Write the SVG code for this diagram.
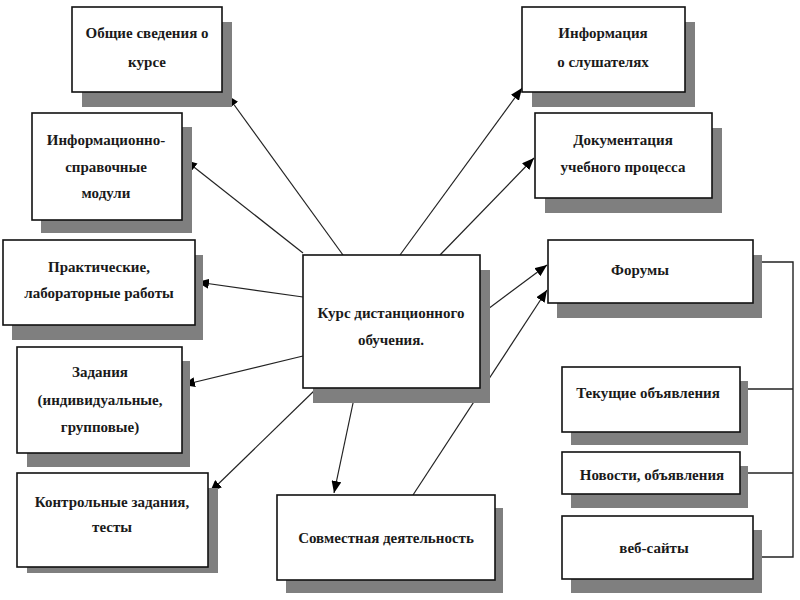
<svg xmlns="http://www.w3.org/2000/svg" width="800" height="600" viewBox="0 0 800 600">
<style>
.sh{fill:#7f7f7f}
.bx{fill:#fff;stroke:#111;stroke-width:1.6}
.t{font-family:"Liberation Serif","Times New Roman",serif;font-weight:bold;font-size:15px;fill:#1a1a1a;text-anchor:middle}
.c{stroke:#222;stroke-width:1.2;fill:none}
.ln{stroke:#222;stroke-width:1.4;fill:none}
</style>
<defs>
<marker id="ah" viewBox="0 0 12 10" refX="12" refY="5" markerWidth="12" markerHeight="10" markerUnits="userSpaceOnUse" orient="auto">
<path d="M0,0 L12,5 L0,10 Z" fill="#000"/>
</marker>
</defs>
<rect width="800" height="600" fill="#fff"/>
<g id="connectors">
<line class="c" x1="343" y1="255" x2="227" y2="95" marker-end="url(#ah)"/>
<line class="c" x1="303" y1="253" x2="185" y2="160" marker-end="url(#ah)"/>
<line class="c" x1="303" y1="297" x2="197" y2="282" marker-end="url(#ah)"/>
<line class="c" x1="303" y1="356" x2="183" y2="385" marker-end="url(#ah)"/>
<line class="c" x1="316" y1="389" x2="210" y2="492" marker-end="url(#ah)"/>
<line class="c" x1="356" y1="389" x2="334" y2="493" marker-end="url(#ah)"/>
<line class="c" x1="400" y1="255" x2="522" y2="88" marker-end="url(#ah)"/>
<line class="c" x1="440" y1="255" x2="534" y2="158" marker-end="url(#ah)"/>
<line class="c" x1="480" y1="315" x2="547" y2="265" marker-end="url(#ah)"/>
<line class="c" x1="413" y1="495" x2="547" y2="290" marker-end="url(#ah)"/>
<polyline class="ln" points="753,262 793,262 793,557 753,557"/>
<line class="ln" x1="740" y1="389" x2="793" y2="389"/>
<line class="ln" x1="740" y1="473" x2="793" y2="473"/>
</g>
<g id="n-obshchie">
<rect class="sh" x="82" y="22" width="150" height="85"/>
<rect class="bx" x="72" y="7" width="150" height="85"/>
<text class="t" x="147" y="38">Общие сведения о</text>
<text class="t" x="147" y="67">курсе</text>
</g>
<g id="n-info-sprav">
<rect class="sh" x="41" y="127" width="151" height="106"/>
<rect class="bx" x="32" y="113" width="150" height="107"/>
<text class="t" x="106" y="145">Информационно-</text>
<text class="t" x="106" y="172">справочные</text>
<text class="t" x="106" y="198">модули</text>
</g>
<g id="n-prakt">
<rect class="sh" x="12" y="255" width="191" height="85"/>
<rect class="bx" x="3" y="240" width="192" height="85"/>
<text class="t" x="99" y="272">Практические,</text>
<text class="t" x="99" y="298">лабораторные работы</text>
</g>
<g id="n-zadaniya">
<rect class="sh" x="27" y="361" width="163" height="106"/>
<rect class="bx" x="17" y="347" width="165" height="106"/>
<text class="t" x="100" y="377">Задания</text>
<text class="t" x="100" y="405">(индивидуальные,</text>
<text class="t" x="100" y="432">групповые)</text>
</g>
<g id="n-kontrol">
<rect class="sh" x="27" y="488" width="191" height="85"/>
<rect class="bx" x="17" y="473" width="191" height="94"/>
<text class="t" x="112" y="507">Контрольные задания,</text>
<text class="t" x="112" y="532">тесты</text>
</g>
<g id="n-kurs">
<rect class="sh" x="313" y="270" width="177" height="133"/>
<rect class="bx" x="303" y="255" width="177" height="133"/>
<text class="t" x="391" y="318">Курс дистанционного</text>
<text class="t" x="391" y="345">обучения.</text>
</g>
<g id="n-sovm">
<rect class="sh" x="286" y="508" width="217" height="85"/>
<rect class="bx" x="277" y="495" width="218" height="85"/>
<text class="t" x="386" y="543">Совместная деятельность</text>
</g>
<g id="n-info-slush">
<rect class="sh" x="532" y="22" width="163" height="85"/>
<rect class="bx" x="522" y="7" width="163" height="85"/>
<text class="t" x="603" y="38">Информация</text>
<text class="t" x="603" y="67">о слушателях</text>
</g>
<g id="n-dokum">
<rect class="sh" x="545" y="128" width="177" height="85"/>
<rect class="bx" x="535" y="113" width="177" height="85"/>
<text class="t" x="623" y="145">Документация</text>
<text class="t" x="623" y="172">учебного процесса</text>
</g>
<g id="n-forumy">
<rect class="sh" x="557" y="255" width="205" height="63"/>
<rect class="bx" x="548" y="240" width="205" height="63"/>
<text class="t" x="640" y="275">Форумы</text>
</g>
<g id="n-tekushchie">
<rect class="sh" x="571" y="381" width="177" height="64"/>
<rect class="bx" x="562" y="367" width="178" height="65"/>
<text class="t" x="648" y="398">Текущие объявления</text>
</g>
<g id="n-novosti">
<rect class="sh" x="571" y="466" width="177" height="42"/>
<rect class="bx" x="562" y="452" width="178" height="42"/>
<text class="t" x="652" y="480">Новости, объявления</text>
</g>
<g id="n-veb">
<rect class="sh" x="571" y="530" width="191" height="63"/>
<rect class="bx" x="562" y="516" width="191" height="63"/>
<text class="t" x="654" y="553">веб-сайты</text>
</g>
</svg>
